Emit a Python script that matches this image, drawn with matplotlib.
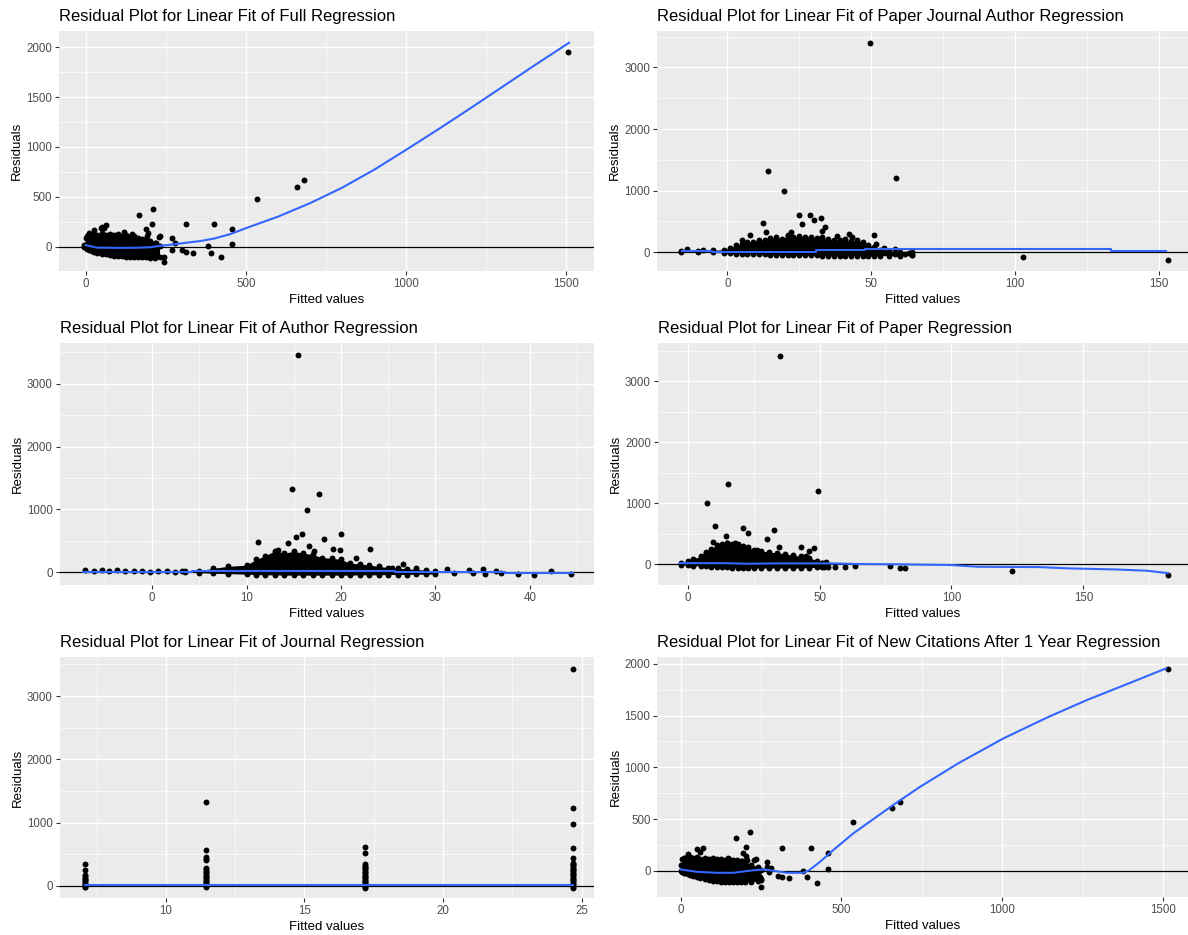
import matplotlib
matplotlib.use("Agg")
import matplotlib.pyplot as plt
from matplotlib.ticker import FixedLocator

plt.rcParams['font.family'] = ['Liberation Sans', 'DejaVu Sans']

W, H = 1188, 935

# ---------------- data ----------------
# Full Regression
full_blob_x = [-5, 0, 5, 10, 18, 25, 35, 50, 62, 75, 88, 100, 112, 125, 138, 150, 162, 175, 188, 200, 215, 230]
full_blob_hi = [20, 90, 110, 125, 115, 130, 120, 135, 120, 130, 115, 125, 110, 115, 100, 105, 90, 80, 75, 60, 40, 10]
full_blob_lo = [0, -10, -20, -30, -40, -50, -60, -70, -78, -85, -90, -95, -98, -100, -103, -105, -105, -105, -108, -110, -110, -100]
full_pts_x = [1507, 680, 660, 534, 400, 312, 455, 455, 380, 392, 422, 335, 312, 299, 268, 278, 268,
              245, 245, 167, 210, 205, 188, 195, 190, 232, 228, 220, 145, 62, 49, 46, 57, 25, 10, 120]
full_pts_y = [1950, 665, 600, 480, 228, 228, 180, 25, 5, -60, -105, -60, -55, -33, 88, 34, -30,
              -104, -155, 315, 375, 225, 180, 140, 108, 105, 95, 40, 125, 215, 200, 185, 190, 165, 140, 150]
full_fit_x = [0, 33, 96, 150, 200, 229, 273, 315, 356, 400, 451, 500, 600, 700, 800, 900, 1000,
              1100, 1200, 1300, 1400, 1509]
full_fit_y = [14, -10, -13, -12, -7, 6, 22, 39, 55, 80, 125, 185, 300, 435, 590, 770, 970,
              1175, 1385, 1600, 1815, 2044]

# Paper Journal Author Regression
pja_blob_x = [-16, -10, -5, -1, 1, 3, 5, 7, 9, 11, 13, 15, 17, 19, 21, 23, 25, 27, 29, 31, 33, 35,
              37, 39, 41, 43, 45, 47, 49, 51, 53, 56, 60, 64]
pja_blob_hi = [20, 25, 30, 40, 70, 110, 140, 160, 170, 200, 190, 230, 240, 220, 260, 250, 270, 240,
               250, 230, 240, 210, 200, 190, 210, 180, 190, 170, 120, 80, 40, 20, 10, 0]
pja_blob_lo = [5, 0, -5, -10, -20, -25, -25, -30, -30, -35, -35, -40, -40, -45, -45, -45, -50, -50,
               -50, -50, -55, -55, -55, -55, -55, -55, -55, -55, -60, -60, -60, -55, -55, -50]
pja_pts_x = [49.6, 14, 58.5, 19.7, 25, 28.6, 32.6, 30, 26, 12.4, 13.4, 34, 32.8, 8, 51, 38, 42.4, 43.3,
             21, 22.3, 5.2, 51.5, 54.4, 58.3, 58.3, 56, 61.7, 64.3, 63, 102.8, 153, -14, -8.3]
pja_pts_y = [3400, 1320, 1200, 990, 600, 600, 560, 520, 450, 470, 335, 410, 350, 275, 275, 270, 290, 245,
             280, 330, 190, 130, 60, 50, -38, -35, -30, -45, -10, -85, -135, 45, 40]
pja_fit_x = [-15.8, -5.3, -5.3, 30.9, 30.9, 47.9, 47.9, 133.3, 133.3, 152.3]
pja_fit_y = [21, 21, 5, 5, 32, 32, 49, 49, 21, 21]

# Author Regression
auth_blob_x = [3.5, 5, 6.5, 8, 10, 11, 12, 13, 14, 15, 16, 17, 18, 19, 20, 21, 22, 23, 24, 25, 26, 27, 28, 29, 30]
auth_blob_hi = [10, 20, 60, 90, 110, 200, 260, 340, 300, 330, 300, 280, 230, 220, 200, 140, 130, 110,
                90, 70, 60, 50, 40, 30, 15]
auth_blob_lo = [-5, -10, -20, -25, -35, -40, -45, -45, -50, -50, -50, -50, -50, -50, -50, -50, -45,
                -45, -45, -40, -40, -40, -35, -35, -30]
auth_pts_x = [15.5, 14.8, 17.7, 16.4, 20, 15.9, 15.25, 14.4, 11.2, 18.2, 16.6, 19.2, 19.9, 23.1, 17.1,
              21.6, 13.3, -7.16, -6.2, -5.3, -4.55, -3.7, -2.86, -1.97, -1.09, -0.21, 0.67, 1.56, 2.43,
              3.14, 31.2, 33.6, 35, 36.4, 37, 38.8, 40.4, 42.2, 44.4, 32, 34, 35.3, 26.6, 28, 25.4]
auth_pts_y = [3455, 1330, 1245, 990, 610, 610, 565, 465, 480, 520, 420, 360, 345, 360, 330, 230, 345,
              30, 15, 40, 20, 25, 15, 10, 20, 5, 10, 15, 5, 10, 55, 40, 50, 20, -15, -30, -40, 10,
              -25, -15, -20, -30, 120, 60, 60]
auth_fit_x = [-7.3, 4.2, 4.2, 25.7, 25.7, 37.4, 37.4, 44.6]
auth_fit_y = [8, 8, 12, 12, -5, -5, -18, -18]

# Paper Regression
pap_blob_x = [-2.5, 0, 2, 5, 7, 9, 11, 13, 15, 17, 19, 21, 23, 25, 28, 31, 34, 37, 40, 43, 46, 49, 51]
pap_blob_hi = [20, 60, 90, 130, 200, 250, 320, 330, 350, 340, 330, 300, 280, 240, 220, 200, 190, 170,
               150, 130, 110, 60, 20]
pap_blob_lo = [-5, -15, -20, -30, -35, -40, -45, -50, -50, -55, -55, -55, -55, -60, -60, -60, -60, -60,
               -60, -60, -55, -50, -40]
pap_pts_x = [35.2, 15.4, 49.5, 7.4, 10.5, 21.1, 23, 32.6, 30.2, 14.4, 9.7, 14.8, 18, 43, 47.8, 46, 34.7,
             7.1, 26.5, 45, 43, 52.6, 51.6, 53.4, 55.9, 59.5, 63.5, 76.7, 80.4, 82.4, 123, 182, 51]
pap_pts_y = [3420, 1320, 1210, 1000, 620, 600, 510, 560, 410, 470, 360, 350, 350, 285, 260, 215, 285,
             180, 230, 130, 90, 40, -40, -45, -40, -45, -25, -25, -65, -65, -110, -175, 20]
pap_fit_x = [-3, 15, 22, 35, 55, 65, 80, 100, 110, 133, 144, 163, 174, 182]
pap_fit_y = [20, 18, 10, 15, 15, 5, 0, -12, -40, -45, -66, -85, -105, -145]

# Journal Regression (four fitted levels)
jour_levels = [7.06, 11.46, 17.2, 24.7]
jour_resid = [
    [340, 250, 170, 150, 130, 110, 90, 70, 50, 30, 10, -10, -20],
    [1320, 575, 450, 430, 410, 280, 260, 240, 220, 200, 180, 160, 140, 120, 100, 80, 60, 40, 20, 0, -20],
    [610, 520, 340, 320, 300, 280, 260, 240, 220, 200, 180, 160, 140, 120, 100, 80, 60, 40, 20, 0, -20, -30],
    [3420, 1235, 985, 600, 440, 370, 350, 330, 310, 290, 270, 250, 230, 210, 190, 170, 150, 130, 110, 90,
     70, 50, 30, 10, -10, -30],
]
jour_fit_x = [7.06, 24.7]
jour_fit_y = [10, 10]

# New Citations After 1 Year Regression
nc_blob_x = [0, 5, 10, 15, 22, 30, 40, 50, 62, 75, 88, 100, 112, 125, 138, 150, 162, 175, 188, 200, 220, 240, 250]
nc_blob_hi = [60, 110, 120, 125, 115, 130, 120, 130, 118, 128, 115, 122, 110, 118, 105, 112, 100, 108, 95, 90, 60, 40, 10]
nc_blob_lo = [0, -10, -18, -25, -32, -40, -50, -60, -70, -80, -88, -95, -100, -105, -108, -110, -110, -110, -110, -110, -105, -100, -80]
nc_pts_x = [1516, 682, 659, 537, 216, 172, 316, 406, 204, 460, 460, 193, 204, 206, 191, 228, 234, 270,
            281, 268, 274, 304, 315, 336, 382, 394, 425, 249, 249, 248, 24, 50, 71, 60, 149]
nc_pts_y = [1955, 664, 609, 474, 377, 313, 222, 222, 232, 174, 18, 175, 140, 100, 90, 105, 115, 87,
            29, 40, -10, -48, -64, -74, 2, -64, -116, -161, -90, -60, 165, 210, 216, 180, 126]
nc_fit_x = [0, 50, 112, 164, 216, 258, 289, 330, 382, 400, 434, 475, 537, 581, 663, 745, 863, 1004,
            1145, 1263, 1381, 1510]
nc_fit_y = [13, -10, -20, -20, 1, 13, 0, -20, -20, 5, 87, 200, 361, 458, 640, 812, 1038, 1280,
            1489, 1650, 1796, 1957]

titles = ["Residual Plot for Linear Fit of Full Regression",
          "Residual Plot for Linear Fit of Paper Journal Author Regression",
          "Residual Plot for Linear Fit of Author Regression",
          "Residual Plot for Linear Fit of Paper Regression",
          "Residual Plot for Linear Fit of Journal Regression",
          "Residual Plot for Linear Fit of New Citations After 1 Year Regression"]

# ---------------- drawing ----------------
fig = plt.figure(figsize=(W / 100, H / 100), dpi=100)
fig.patch.set_facecolor('white')

BLUE = '#3366FF'
PT = 18


def make_panel(l, r, t, b, title, xlim, ylim, xmaj, xmin, ymaj, ymin):
    ax = fig.add_axes([l / W, 1 - b / H, (r - l) / W, (b - t) / H])
    ax.set_facecolor('#EBEBEB')
    for s in ax.spines.values():
        s.set_visible(False)
    ax.set_xlim(xlim)
    ax.set_ylim(ylim)
    ax.xaxis.set_major_locator(FixedLocator(xmaj))
    ax.xaxis.set_minor_locator(FixedLocator(xmin))
    ax.yaxis.set_major_locator(FixedLocator(ymaj))
    ax.yaxis.set_minor_locator(FixedLocator(ymin))
    ax.grid(which='major', color='white', lw=1.0)
    ax.grid(which='minor', color='white', lw=0.5)
    ax.set_axisbelow(True)
    ax.tick_params(which='major', length=2.75, width=0.8, color='#333333',
                   labelcolor='#4D4D4D', labelsize=8.3, pad=2.2)
    ax.tick_params(which='minor', length=0)
    fig.text(l / W, 1 - (t - 10) / H, title, fontsize=12, ha='left', va='baseline')
    fig.text((l + r) / 2 / W, 1 - (b + 29) / H, 'Fitted values', fontsize=9.5,
             ha='center', va='center')
    fig.text((l - 42) / W, 1 - (t + b) / 2 / H, 'Residuals', fontsize=9.5,
             ha='center', va='center', rotation=90)
    return ax


def draw_cloud(ax, bx, hi, lo, px, py, fx, fy):
    ax.fill_between(bx, lo, hi, color='black', lw=0, zorder=2)
    ax.scatter(bx, hi, s=PT, color='black', lw=0, zorder=2)
    ax.scatter(bx, lo, s=PT, color='black', lw=0, zorder=2)
    ax.scatter(px, py, s=PT, color='black', lw=0, zorder=2)
    ax.axhline(0, color='black', lw=0.9, zorder=3)
    ax.plot(fx, fy, color=BLUE, lw=1.5, zorder=4)


# panel 1
ax1 = make_panel(59, 594, 30.7, 271, titles[0], (-84, 1587), (-245, 2165),
                 [0, 500, 1000, 1500], [250, 750, 1250],
                 [0, 500, 1000, 1500, 2000], [-250, 250, 750, 1250, 1750])
draw_cloud(ax1, full_blob_x, full_blob_hi, full_blob_lo, full_pts_x, full_pts_y, full_fit_x, full_fit_y)

# panel 2
ax2 = make_panel(657, 1188, 30.7, 271, titles[1], (-24.4, 160), (-306, 3597),
                 [0, 50, 100, 150], [-25, 25, 75, 125],
                 [0, 1000, 2000, 3000], [500, 1500, 2500, 3500])
draw_cloud(ax2, pja_blob_x, pja_blob_hi, pja_blob_lo, pja_pts_x, pja_pts_y, pja_fit_x, pja_fit_y)

# panel 3
ax3 = make_panel(59.6, 594, 343.3, 585, titles[2], (-9.8, 46.8), (-207, 3646),
                 [0, 10, 20, 30, 40], [-5, 5, 15, 25, 35, 45],
                 [0, 1000, 2000, 3000], [500, 1500, 2500, 3500])
draw_cloud(ax3, auth_blob_x, auth_blob_hi, auth_blob_lo, auth_pts_x, auth_pts_y, auth_fit_x, auth_fit_y)

# panel 4
ax4 = make_panel(657.7, 1188, 343, 585, titles[3], (-11.3, 189.6), (-339, 3628),
                 [0, 50, 100, 150], [25, 75, 125, 175],
                 [0, 1000, 2000, 3000], [500, 1500, 2500, 3500])
draw_cloud(ax4, pap_blob_x, pap_blob_hi, pap_blob_lo, pap_pts_x, pap_pts_y, pap_fit_x, pap_fit_y)

# panel 5
ax5 = make_panel(59.6, 594, 657.3, 897.7, titles[4], (6.16, 25.45), (-186, 3612),
                 [10, 15, 20, 25], [7.5, 12.5, 17.5, 22.5],
                 [0, 1000, 2000, 3000], [500, 1500, 2500, 3500])
for lev, res in zip(jour_levels, jour_resid):
    ax5.scatter([lev] * len(res), res, s=PT, color='black', lw=0, zorder=2)
ax5.axhline(0, color='black', lw=0.9, zorder=3)
ax5.plot(jour_fit_x, jour_fit_y, color=BLUE, lw=1.5, zorder=4)

# panel 6
ax6 = make_panel(657.4, 1188, 656.7, 896.7, titles[5], (-72, 1578), (-251, 2070),
                 [0, 500, 1000, 1500], [250, 750, 1250],
                 [0, 500, 1000, 1500, 2000], [-250, 250, 750, 1250, 1750])
draw_cloud(ax6, nc_blob_x, nc_blob_hi, nc_blob_lo, nc_pts_x, nc_pts_y, nc_fit_x, nc_fit_y)

fig.savefig('out.png', dpi=100)
